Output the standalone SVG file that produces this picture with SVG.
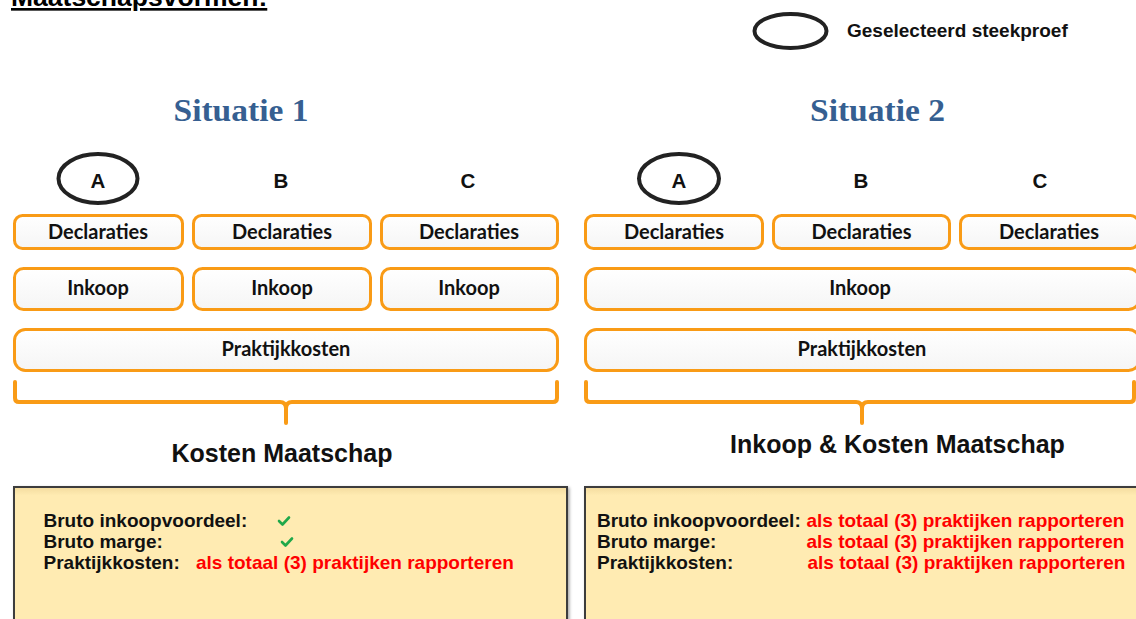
<svg xmlns="http://www.w3.org/2000/svg" width="1136" height="619" viewBox="0 0 1136 619">
<defs>
<linearGradient id="boxfill" x1="0" y1="0" x2="0" y2="1">
<stop offset="0" stop-color="#FFFFFF"/>
<stop offset="1" stop-color="#F5F5F5"/>
</linearGradient>
<linearGradient id="yellowfill" x1="0" y1="0" x2="0" y2="1">
<stop offset="0" stop-color="#F3DB9E"/>
<stop offset="0.06" stop-color="#FFEBB2"/>
<stop offset="1" stop-color="#FFEBB2"/>
</linearGradient>
<filter id="shadow" x="-5%" y="-5%" width="110%" height="115%">
<feDropShadow dx="1.5" dy="1.5" stdDeviation="1.5" flood-color="#000" flood-opacity="0.35"/>
</filter>
</defs>
<style>
.box{fill:url(#boxfill);stroke:#F99B16;stroke-width:3}
.boxtxt{font-family:Lato,"Open Sans","Liberation Sans",sans-serif;font-weight:700;font-size:20px;fill:#111;text-anchor:middle}
.lbl{font-family:"Liberation Sans",Arial,sans-serif;font-weight:700;font-size:20.5px;fill:#111;text-anchor:middle}
.sel{fill:none;stroke:#222;stroke-width:4}
.head{font-family:"Liberation Serif","Times New Roman",serif;font-weight:700;font-size:31px;fill:#365F91;text-anchor:middle}
.brace{fill:none;stroke:#F99B16;stroke-width:4;stroke-linecap:round;stroke-linejoin:round}
.sum{font-family:"Liberation Sans",Arial,sans-serif;font-weight:700;font-size:25px;fill:#111;text-anchor:middle}
.panel{fill:url(#yellowfill);stroke:#3C3C3C;stroke-width:2}
.pt{font-family:"Liberation Sans",Arial,sans-serif;font-weight:700;font-size:19px;fill:#111}
.red{fill:#FF0000}
.check{fill:none;stroke:#1FA84A;stroke-width:2.6;stroke-linecap:round;stroke-linejoin:round}
</style>
<rect width="1136" height="619" fill="#FFFFFF"/>

<g id="title">
<text x="11" y="6" font-family="Liberation Sans, Arial, sans-serif" font-weight="700" font-size="26.5" fill="#000" text-decoration="underline">Maatschapsvormen:</text>
</g>

<g id="legend">
<ellipse class="sel" cx="790.5" cy="31" rx="36" ry="17"/>
<text x="847" y="37" font-family="Liberation Sans, Arial, sans-serif" font-weight="700" font-size="19" fill="#111">Geselecteerd steekproef</text>
</g>

<g id="situatie1">
<text class="head" x="241" y="121" textLength="135" lengthAdjust="spacingAndGlyphs">Situatie 1</text>
<g id="s1-label-a">
<ellipse class="sel" cx="98" cy="178.5" rx="39.5" ry="24.5"/>
<text class="lbl" x="98" y="187.5">A</text>
</g>
<g id="s1-label-b"><text class="lbl" x="281" y="187.5">B</text></g>
<g id="s1-label-c"><text class="lbl" x="468" y="187.5">C</text></g>
<g id="s1-decl-a"><rect class="box" x="14.5" y="215.5" width="168" height="33" rx="8"/><text class="boxtxt" x="98" y="238.5">Declaraties</text></g>
<g id="s1-decl-b"><rect class="box" x="193.5" y="215.5" width="177" height="33" rx="8"/><text class="boxtxt" x="282" y="238.5">Declaraties</text></g>
<g id="s1-decl-c"><rect class="box" x="381.5" y="215.5" width="176" height="33" rx="8"/><text class="boxtxt" x="469" y="238.5">Declaraties</text></g>
<g id="s1-inkoop-a"><rect class="box" x="14.5" y="268.5" width="168" height="41" rx="9"/><text class="boxtxt" x="98" y="295">Inkoop</text></g>
<g id="s1-inkoop-b"><rect class="box" x="193.5" y="268.5" width="177" height="41" rx="9"/><text class="boxtxt" x="282" y="295">Inkoop</text></g>
<g id="s1-inkoop-c"><rect class="box" x="381.5" y="268.5" width="176" height="41" rx="9"/><text class="boxtxt" x="469" y="295">Inkoop</text></g>
<g id="s1-praktijk"><rect class="box" x="14.5" y="329.5" width="543" height="41" rx="11"/><text class="boxtxt" x="286" y="356">Praktijkkosten</text></g>
<g id="s1-kosten"><text class="sum" x="282" y="462">Kosten Maatschap</text></g>
<g id="s1-panel">
<rect class="panel" x="14" y="487" width="553" height="140" filter="url(#shadow)"/>
<text class="pt" x="43.5" y="527">Bruto inkoopvoordeel:</text>
<text class="pt" x="43.5" y="548">Bruto marge:</text>
<text class="pt" x="43.5" y="569">Praktijkkosten:</text>
<path class="check" d="M279,521 L282.5,524.5 L289,517.5"/>
<path class="check" d="M282,542 L285.5,545.5 L292,538.5"/>
<text class="pt red" x="196" y="569">als totaal (3) praktijken rapporteren</text>
</g>
</g>

<g id="situatie2">
<text class="head" x="877.5" y="121" textLength="135" lengthAdjust="spacingAndGlyphs">Situatie 2</text>
<g id="s2-label-a">
<ellipse class="sel" cx="679" cy="178.5" rx="40" ry="24.5"/>
<text class="lbl" x="679" y="187.5">A</text>
</g>
<g id="s2-label-b"><text class="lbl" x="861" y="187.5">B</text></g>
<g id="s2-label-c"><text class="lbl" x="1040" y="187.5">C</text></g>
<g id="s2-decl-a"><rect class="box" x="585.5" y="215.5" width="177" height="33" rx="8"/><text class="boxtxt" x="674" y="238.5">Declaraties</text></g>
<g id="s2-decl-b"><rect class="box" x="773.5" y="215.5" width="176" height="33" rx="8"/><text class="boxtxt" x="861.5" y="238.5">Declaraties</text></g>
<g id="s2-decl-c"><rect class="box" x="960.5" y="215.5" width="178" height="33" rx="8"/><text class="boxtxt" x="1049" y="238.5">Declaraties</text></g>
<g id="s2-inkoop"><rect class="box" x="585.5" y="268.5" width="554" height="41" rx="11"/><text class="boxtxt" x="860" y="295">Inkoop</text></g>
<g id="s2-praktijk"><rect class="box" x="585.5" y="329.5" width="554" height="41" rx="11"/><text class="boxtxt" x="862" y="356">Praktijkkosten</text></g>
<g id="s2-kosten"><text class="sum" x="897.5" y="453">Inkoop &amp; Kosten Maatschap</text></g>
<g id="s2-panel">
<rect class="panel" x="585" y="487" width="560" height="140" filter="url(#shadow)"/>
<text class="pt" x="597" y="527">Bruto inkoopvoordeel:</text>
<text class="pt" x="597" y="548">Bruto marge:</text>
<text class="pt" x="597" y="569">Praktijkkosten:</text>
<text class="pt red" x="806.5" y="527">als totaal (3) praktijken rapporteren</text>
<text class="pt red" x="806.5" y="548">als totaal (3) praktijken rapporteren</text>
<text class="pt red" x="807.5" y="569">als totaal (3) praktijken rapporteren</text>
</g>
</g>

<g id="connectors">
<path class="brace" d="M15,382 V398 Q15,402 19,402 H280 Q285.5,402 286,408 V423 M286,408 Q286.5,402 292,402 H553 Q557,402 557,398 V382"/>
<path class="brace" d="M586,382 V398 Q586,402 590,402 H856 Q861.5,402 862,408 V423 M862,408 Q862.5,402 868,402 H1130 Q1134,402 1134,398 V382"/>
</g>
</svg>
